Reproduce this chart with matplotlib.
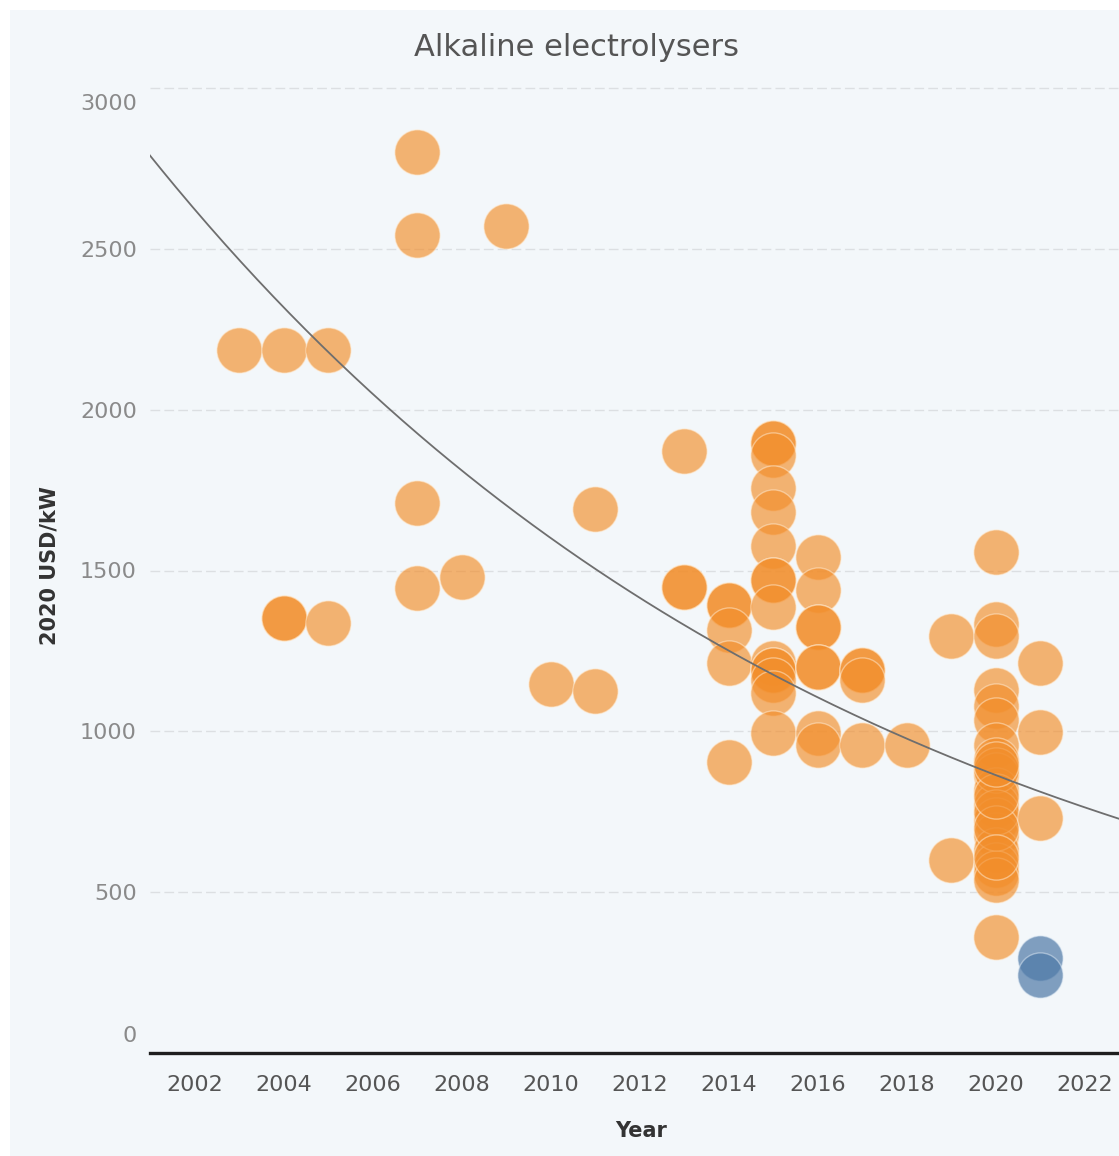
import numpy as np
import matplotlib
matplotlib.use("Agg")
import matplotlib.pyplot as plt
from matplotlib.transforms import ScaledTranslation

plt.rcParams['font.family'] = ['DejaVu Sans']

# ---- data ----
orange_years = [2003,
                2004, 2004, 2004,
                2005, 2005,
                2007, 2007, 2007, 2007,
                2008,
                2009,
                2010,
                2011, 2011,
                2013, 2013, 2013,
                2014, 2014, 2014, 2014, 2014,
                2015, 2015, 2015, 2015, 2015, 2015, 2015, 2015, 2015, 2015, 2015, 2015, 2015, 2015, 2015,
                2016, 2016, 2016, 2016, 2016, 2016, 2016, 2016,
                2017, 2017, 2017, 2017,
                2018,
                2019, 2019,
                2020, 2020, 2020, 2020, 2020, 2020, 2020, 2020, 2020, 2020, 2020, 2020,
                2020, 2020, 2020, 2020, 2020, 2020, 2020, 2020, 2020, 2020, 2020, 2020,
                2021, 2021, 2021]
orange_costs = [2185,
                2185, 1352, 1352,
                2185, 1337,
                2801, 2543, 1710, 1445,
                1480,
                2571,
                1147,
                1691, 1125,
                1871, 1449, 1449,
                1393, 1393, 1315, 1212, 905,
                1896, 1896, 1859, 1756, 1682, 1576, 1470, 1470, 1386, 1212, 1191, 1191, 1159, 1119, 995,
                1542, 1439, 1324, 1324, 1200, 1200, 995, 957,
                1191, 1191, 1159, 957,
                957,
                1296, 600,
                1557, 1334, 1296, 1128, 1079, 1035, 957, 911, 864, 818, 771, 724,
                678, 631, 584, 560, 538, 361, 880, 750, 700, 800, 900, 610,
                1212, 998, 730]

blue_years = [2021, 2021]
blue_costs = [295, 242]

# exponential trend line as drawn in the picture (value at left and right edge of plot)
trend_x = [2001.0, 2022.78]
trend_y = [2790, 728]

x_ticks = [2002, 2004, 2006, 2008, 2010, 2012, 2014, 2016, 2018, 2020, 2022]
y_ticks = [0, 500, 1000, 1500, 2000, 2500, 3000]

title = "Alkaline electrolysers"
x_label = "Year"
y_label = "2020 USD/kW"

# ---- figure ----
W, H = 1119, 1156
fig = plt.figure(figsize=(W / 100, H / 100), dpi=100, facecolor='white')
bg = '#F3F7FA'
bg_ax = fig.add_axes([10 / W, 0, 1 - 10 / W, 1 - 10 / H], zorder=-10)
bg_ax.set_facecolor(bg)
bg_ax.set_xticks([]); bg_ax.set_yticks([])
for sp in bg_ax.spines.values():
    sp.set_visible(False)

ax_left, ax_right = 150, 1119
ax_top, ax_bot = 75, 1053
ax = fig.add_axes([ax_left / W, (H - ax_bot) / H, (ax_right - ax_left) / W, (ax_bot - ax_top) / H])
ax.set_facecolor('none')

px_per_year = 44.5
x0 = 2001.0
ax.set_xlim(x0, x0 + (ax_right - ax_left) / px_per_year)
px_per_unit = (ax_bot - 88) / 3000.0
ax.set_ylim(0, (ax_bot - ax_top) / px_per_unit)

# gridlines
for v in y_ticks[1:]:
    ax.axhline(v, color='#dcdfe2', lw=1.0, ls=(0, (7, 3)), zorder=1)
ax.axhline(0, color='#1e1e1e', lw=2.4, zorder=5, clip_on=False)

# trend line (exponential between the two read end values)
rate = np.log(trend_y[1] / trend_y[0]) / (trend_x[1] - trend_x[0])
tx = np.linspace(trend_x[0], trend_x[1], 300)
ax.plot(tx, trend_y[0] * np.exp(rate * (tx - trend_x[0])), color='#6e6e6e', lw=1.3, zorder=4)

s = 1060
ax.scatter(orange_years, orange_costs, s=s, facecolors=[(0.949, 0.557, 0.169, 0.66)],
           edgecolors=[(1.0, 0.93, 0.84, 0.5)], linewidths=1.0, zorder=3)
ax.scatter(blue_years, blue_costs, s=s, facecolors=[(0.306, 0.475, 0.655, 0.7)],
           edgecolors=[(0.88, 0.92, 0.96, 0.5)], linewidths=1.0, zorder=3)

for sp in ax.spines.values():
    sp.set_visible(False)

ax.set_xticks(x_ticks)
ax.set_xticklabels([str(t) for t in x_ticks], fontsize=16, color='#555555')
ax.set_yticks(y_ticks)
ax.set_yticklabels([str(t) for t in y_ticks], fontsize=16, color='#8a8a8a')
ax.tick_params(axis='both', length=0)
ax.tick_params(axis='x', pad=16)
ax.tick_params(axis='y', pad=9.5)

ylabs = ax.get_yticklabels()
ylabs[-1].set_transform(ylabs[-1].get_transform() + ScaledTranslation(0, -14 / 100, fig.dpi_scale_trans))
ylabs[0].set_transform(ylabs[0].get_transform() + ScaledTranslation(0, 19 / 100, fig.dpi_scale_trans))

fig.text(576 / W, 1 - 47 / H, title, ha='center', va='center', fontsize=22, color='#555555')
fig.text(641 / W, 1 - 1131 / H, x_label, ha='center', va='center', fontsize=15,
         fontweight='bold', color='#333333')
fig.text(50 / W, 1 - 566 / H, y_label, ha='center', va='center', rotation=90, fontsize=15,
         fontweight='bold', color='#333333')

fig.savefig('out.png', dpi=100, facecolor='white')
